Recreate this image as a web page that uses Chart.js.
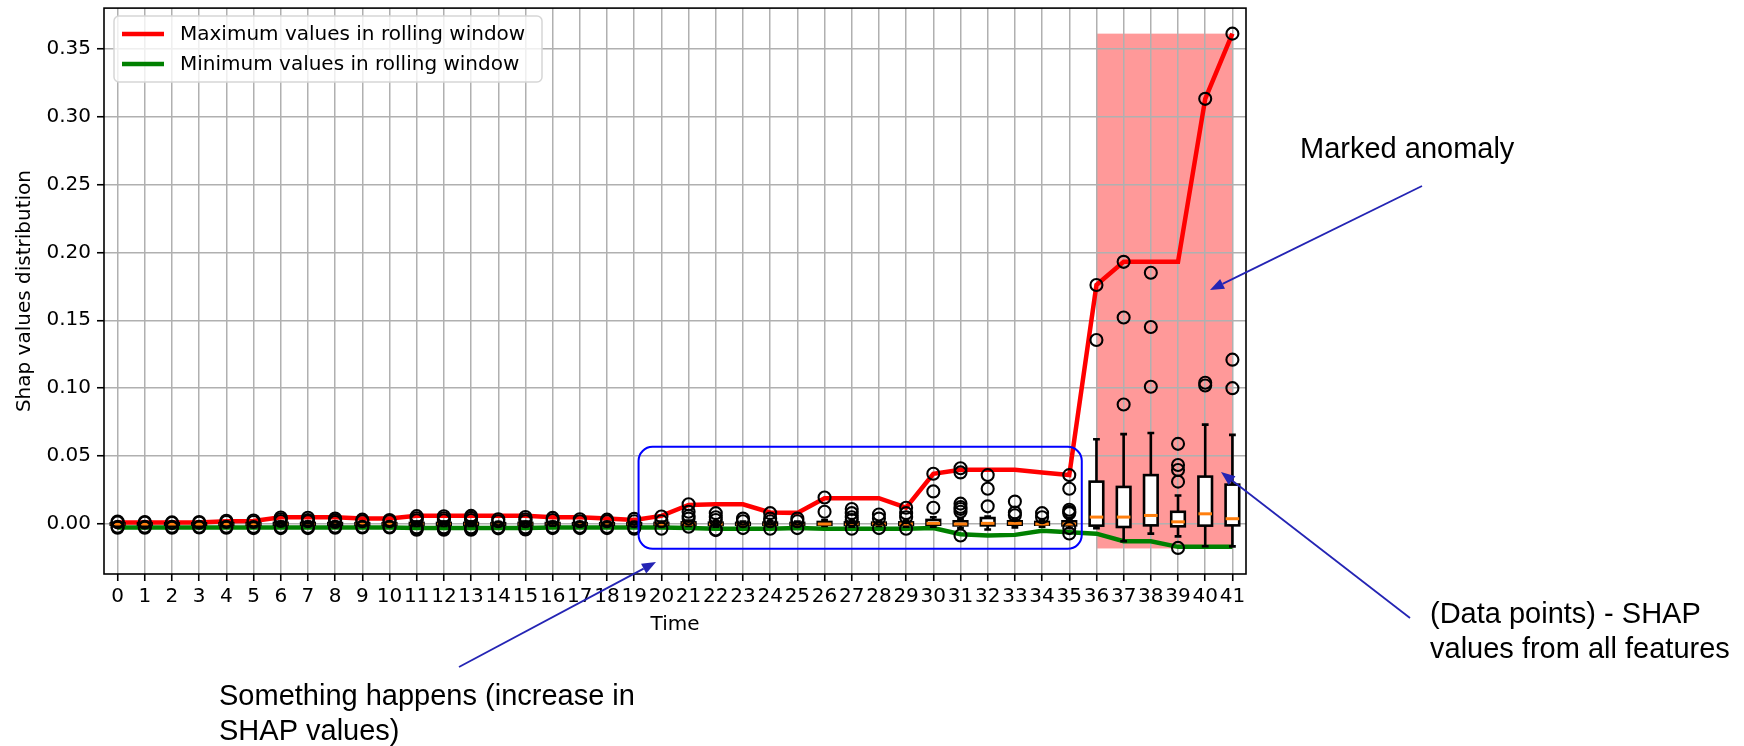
<!DOCTYPE html>
<html>
<head>
<meta charset="utf-8">
<script src="https://cdn.jsdelivr.net/npm/chart.js@4/dist/chart.umd.min.js"></script>
<style>
  html, body { margin: 0; padding: 0; background: #ffffff; }
  canvas { display: block; }
</style>
</head>
<body>
<canvas id="shapChart" width="1744" height="746"></canvas>
<script>
// Time steps shown on the x axis
const timeLabels = ['0','1','2','3','4','5','6','7','8','9','10','11','12','13','14','15','16','17','18','19','20',
  '21','22','23','24','25','26','27','28','29','30','31','32','33','34','35','36','37','38','39','40','41'];

// Rolling-window extremes of the SHAP values
const rollingMax = [0.0012, 0.0012, 0.0012, 0.0012, 0.002, 0.0022, 0.005, 0.005, 0.005, 0.004, 0.004,
  0.006, 0.006, 0.006, 0.006, 0.006, 0.005, 0.005, 0.004, 0.003, 0.006,
  0.014, 0.0145, 0.0145, 0.0085, 0.0082, 0.019, 0.019, 0.019, 0.012, 0.037,
  0.040, 0.040, 0.040, 0.0380, 0.036, 0.176, 0.193, 0.193, 0.193, 0.313, 0.361];
const rollingMin = [-0.0025, -0.0025, -0.0025, -0.0025, -0.0025, -0.0025, -0.0025, -0.0025, -0.0025, -0.0025, -0.0025,
  -0.003, -0.003, -0.003, -0.003, -0.003, -0.0025, -0.0025, -0.0025, -0.0025, -0.0025,
  -0.003, -0.0035, -0.0035, -0.0035, -0.003, -0.0035, -0.0035, -0.0035, -0.0035, -0.003,
  -0.0075, -0.0085, -0.008, -0.005, -0.006, -0.0071, -0.0127, -0.0127, -0.0168, -0.0168, -0.0168];

// Box-plot statistics of the SHAP values at each time step
const whiskerLow = [-0.0012, -0.0012, -0.0012, -0.0012, -0.0012, -0.0012, -0.0012, -0.0012, -0.0012, -0.0012, -0.0012,
  -0.0015, -0.0015, -0.0015, -0.0012, -0.0015, -0.0012, -0.0012, -0.0012, -0.0012, -0.0015,
  -0.0015, -0.002, -0.0015, -0.0015, -0.0015, -0.0015, -0.002, -0.0015, -0.002, -0.002,
  -0.003, -0.004, -0.0025, -0.002, -0.003, -0.003, -0.0127, -0.0071, -0.0091, -0.0164, -0.0165];
const quartile1 = [-0.0005, -0.0005, -0.0005, -0.0005, -0.0005, -0.0005, -0.0005, -0.0005, -0.0005, -0.0005, -0.0005,
  -0.0006, -0.0006, -0.0006, -0.0005, -0.0006, -0.0005, -0.0005, -0.0005, -0.0005, -0.0005,
  -0.0005, -0.0007, -0.0005, -0.0005, -0.0005, -0.0005, -0.0007, -0.0005, -0.0007, -0.0005,
  -0.001, -0.001, -0.0005, -0.0005, -0.001, -0.0012, -0.0022, -0.001, -0.0017, -0.0012, -0.001];
const medians = [0, 0, 0, 0, 0, 0, 0, 0, 0, 0, 0,
  0, 0, 0, 0, 0, 0, 0, 0, 0, 0,
  0, 0, 0, 0, 0, 0, 0, 0, 0, 0.0005,
  0, 0.0005, 0.0005, 0, 0, 0.0051, 0.0051, 0.0063, 0.0016, 0.0075, 0.0039];
const quartile3 = [0.0005, 0.0005, 0.0005, 0.0005, 0.0006, 0.0006, 0.0008, 0.0008, 0.0007, 0.0006, 0.0006,
  0.0008, 0.0008, 0.0008, 0.0006, 0.0008, 0.0007, 0.0006, 0.0006, 0.0006, 0.0008,
  0.0012, 0.001, 0.0008, 0.001, 0.0008, 0.0015, 0.0012, 0.001, 0.0012, 0.003,
  0.002, 0.0044, 0.002, 0.0015, 0.002, 0.0312, 0.0273, 0.036, 0.009, 0.0349, 0.029];
const whiskerHigh = [0.0012, 0.0012, 0.0012, 0.0012, 0.0013, 0.0013, 0.0018, 0.0018, 0.0016, 0.0014, 0.0014,
  0.0018, 0.0018, 0.0018, 0.0014, 0.0018, 0.0016, 0.0014, 0.0014, 0.0014, 0.0018,
  0.0025, 0.002, 0.0018, 0.002, 0.0018, 0.003, 0.0025, 0.002, 0.0025, 0.005,
  0.004, 0.0055, 0.004, 0.003, 0.004, 0.0624, 0.0662, 0.067, 0.021, 0.0732, 0.0656];

// Outlying SHAP values (individual features) at each time step
const fliers = [
  [0.0018, 0.0012, -0.002, -0.0027], [0.0015, 0.001, -0.002, -0.0028], [0.0012, 0.0008, -0.002, -0.0028],
  [0.0014, 0.0009, -0.002, -0.0026], [0.0024, 0.0015, -0.002, -0.0028], [0.0026, 0.0015, -0.0022, -0.003],
  [0.0048, 0.0035, 0.0022, -0.0022, -0.003], [0.0046, 0.003, 0.002, -0.0022, -0.003],
  [0.004, 0.0028, 0.0015, -0.002, -0.0028], [0.0032, 0.002, -0.002, -0.0026], [0.003, 0.002, -0.002, -0.0026],
  [0.0058, 0.0042, 0.0028, -0.0025, -0.0035, -0.0042], [0.0057, 0.0042, 0.0028, -0.0025, -0.0035, -0.0042],
  [0.006, 0.0045, 0.003, -0.0025, -0.0035, -0.0042], [0.0035, 0.002, -0.0025, -0.0032],
  [0.0052, 0.0035, 0.002, -0.0025, -0.0035, -0.004], [0.0045, 0.003, -0.0022, -0.003],
  [0.0035, 0.002, -0.0022, -0.003], [0.0032, 0.002, -0.0022, -0.003], [0.0038, 0.002, -0.0025, -0.0035],
  [0.0055, 0.002, -0.0035],
  [0.0145, 0.009, 0.006, 0.004, -0.002], [0.008, 0.005, 0.003, -0.004, -0.0045], [0.004, 0.002, -0.003],
  [0.008, 0.004, 0.002, -0.0035], [0.004, 0.002, -0.003], [0.0195, 0.009],
  [0.011, 0.008, 0.005, 0.003, -0.0035], [0.007, 0.004, -0.003], [0.012, 0.008, 0.005, -0.0035],
  [0.037, 0.024, 0.012], [0.041, 0.038, 0.015, 0.0125, 0.011, 0.009, -0.0085], [0.036, 0.026, 0.013],
  [0.0165, 0.0085, 0.0065], [0.008, 0.005], [0.036, 0.026, 0.0105, 0.009, 0.008, -0.003, -0.007],
  [0.176, 0.1355], [0.193, 0.152, 0.088], [0.185, 0.145, 0.101],
  [0.059, 0.0434, 0.0398, 0.0312, -0.0176], [0.313, 0.104, 0.102], [0.361, 0.121, 0.100]
];

const yTickValues = [0, 0.05, 0.10, 0.15, 0.20, 0.25, 0.30, 0.35];

// Highlighted anomaly span and the "something happens" window, in data units
const anomalySpan = { x0: 36, x1: 41, y0: -0.018, y1: 0.361 };
const changeWindow = { x0: 19.16, x1: 35.46, y0: -0.0183, y1: 0.0568 };

const axisFont = { family: 'DejaVu Sans', size: 20 };
const noteFont = '29px "Liberation Sans", Arial, sans-serif';
const arrowColor = '#2424b4';

const flierPoints = [];
fliers.forEach((vals, i) => vals.forEach(v => flierPoints.push({ x: i, y: v })));

// Shaded anomaly span, beneath the grid
const anomalyShade = {
  id: 'anomalyShade',
  beforeDraw(chart) {
    const { ctx, scales: { x, y } } = chart;
    const l = x.getPixelForValue(anomalySpan.x0), r = x.getPixelForValue(anomalySpan.x1);
    const t = y.getPixelForValue(anomalySpan.y1), b = y.getPixelForValue(anomalySpan.y0);
    ctx.save();
    ctx.fillStyle = 'rgba(255,0,0,0.4)';
    ctx.fillRect(l, t, r - l, b - t);
    ctx.restore();
  }
};

// Box plots (whiskers, caps, boxes, medians), drawn just before the outlier markers
const boxPlots = {
  id: 'boxPlots',
  beforeDatasetDraw(chart, args) {
    if (args.index !== 2) return;
    const { ctx, scales: { x, y } } = chart;
    const boxHalf = x.getPixelForValue(0.25) - x.getPixelForValue(0);
    const capHalf = boxHalf / 2;
    ctx.save();
    ctx.lineCap = 'butt';
    timeLabels.forEach((_, i) => {
      const cx = x.getPixelForValue(i);
      const yLo = y.getPixelForValue(whiskerLow[i]);
      const yQ1 = y.getPixelForValue(quartile1[i]);
      const yMed = y.getPixelForValue(medians[i]);
      const yQ3 = y.getPixelForValue(quartile3[i]);
      const yHi = y.getPixelForValue(whiskerHigh[i]);
      ctx.strokeStyle = '#000';
      ctx.lineWidth = 2.6;
      ctx.beginPath();
      ctx.moveTo(cx, yQ3); ctx.lineTo(cx, yHi);
      ctx.moveTo(cx, yQ1); ctx.lineTo(cx, yLo);
      ctx.moveTo(cx - capHalf, yHi); ctx.lineTo(cx + capHalf, yHi);
      ctx.moveTo(cx - capHalf, yLo); ctx.lineTo(cx + capHalf, yLo);
      ctx.stroke();
      ctx.fillStyle = '#ffffff';
      ctx.fillRect(cx - boxHalf, yQ3, boxHalf * 2, yQ1 - yQ3);
      ctx.strokeRect(cx - boxHalf, yQ3, boxHalf * 2, yQ1 - yQ3);
      ctx.strokeStyle = '#ff7f0e';
      ctx.lineWidth = 3;
      ctx.beginPath();
      ctx.moveTo(cx - boxHalf, yMed); ctx.lineTo(cx + boxHalf, yMed);
      ctx.stroke();
    });
    ctx.restore();
  }
};

function drawArrow(ctx, x0, y0, x1, y1) {
  const ang = Math.atan2(y1 - y0, x1 - x0);
  const len = 14, wid = 5.5;
  const bx = x1 - len * Math.cos(ang), by = y1 - len * Math.sin(ang);
  ctx.beginPath();
  ctx.moveTo(x0, y0); ctx.lineTo(bx, by);
  ctx.stroke();
  ctx.beginPath();
  ctx.moveTo(x1, y1);
  ctx.lineTo(bx + wid * Math.sin(ang), by - wid * Math.cos(ang));
  ctx.lineTo(bx - wid * Math.sin(ang), by + wid * Math.cos(ang));
  ctx.closePath();
  ctx.fill();
}

function roundRect(ctx, x, y, w, h, r) {
  ctx.beginPath();
  ctx.moveTo(x + r, y);
  ctx.lineTo(x + w - r, y); ctx.arcTo(x + w, y, x + w, y + r, r);
  ctx.lineTo(x + w, y + h - r); ctx.arcTo(x + w, y + h, x + w - r, y + h, r);
  ctx.lineTo(x + r, y + h); ctx.arcTo(x, y + h, x, y + h - r, r);
  ctx.lineTo(x, y + r); ctx.arcTo(x, y, x + r, y, r);
  ctx.closePath();
}

// Axes frame, change window, legend and the explanatory notes
const overlays = {
  id: 'overlays',
  afterDatasetsDraw(chart) {
    const { ctx, chartArea: a, scales: { x, y } } = chart;
    ctx.save();
    ctx.strokeStyle = '#000';
    ctx.lineWidth = 1.6;
    ctx.strokeRect(a.left, a.top, a.right - a.left, a.bottom - a.top);
    const l = x.getPixelForValue(changeWindow.x0), r = x.getPixelForValue(changeWindow.x1);
    const t = y.getPixelForValue(changeWindow.y1), b = y.getPixelForValue(changeWindow.y0);
    ctx.strokeStyle = '#0000ff';
    ctx.lineWidth = 2;
    roundRect(ctx, l, t, r - l, b - t, 14);
    ctx.stroke();
    ctx.restore();
  },
  afterDraw(chart) {
    const { ctx } = chart;
    ctx.save();
    // legend
    roundRect(ctx, 114, 16, 428, 66, 5);
    ctx.fillStyle = 'rgba(255,255,255,0.8)';
    ctx.fill();
    ctx.strokeStyle = '#d6d6d6';
    ctx.lineWidth = 1.5;
    ctx.stroke();
    const rows = [34, 64];
    chart.data.datasets.slice(0, 2).forEach((ds, i) => {
      ctx.strokeStyle = ds.borderColor;
      ctx.lineWidth = 4.5;
      ctx.beginPath();
      ctx.moveTo(122, rows[i]); ctx.lineTo(164, rows[i]);
      ctx.stroke();
      ctx.fillStyle = '#000';
      ctx.font = `${axisFont.size}px "${axisFont.family}"`;
      ctx.textBaseline = 'middle';
      ctx.textAlign = 'left';
      ctx.fillText(ds.label, 180, rows[i] + 1);
    });
    // notes and arrows
    ctx.fillStyle = '#000';
    ctx.textBaseline = 'middle';
    ctx.font = noteFont;
    ctx.fillText('Marked anomaly', 1300, 150);
    ctx.fillText('Something happens (increase in', 219, 697);
    ctx.fillText('SHAP values)', 219, 732);
    ctx.fillText('(Data points) - SHAP', 1430, 615);
    ctx.fillText('values from all features', 1430, 650);
    ctx.strokeStyle = arrowColor;
    ctx.fillStyle = arrowColor;
    ctx.lineWidth = 1.8;
    drawArrow(ctx, 1422, 186, 1210, 290);
    drawArrow(ctx, 1410, 618, 1221, 472);
    drawArrow(ctx, 459, 667, 656, 562);
    ctx.restore();
  }
};

new Chart(document.getElementById('shapChart'), {
  type: 'line',
  data: {
    datasets: [
      {
        label: 'Maximum values in rolling window',
        data: rollingMax.map((v, i) => ({ x: i, y: v })),
        borderColor: '#ff0000', borderWidth: 4.5, pointRadius: 0, tension: 0, order: 2
      },
      {
        label: 'Minimum values in rolling window',
        data: rollingMin.map((v, i) => ({ x: i, y: v })),
        borderColor: '#008000', borderWidth: 4.5, pointRadius: 0, tension: 0, order: 1
      },
      {
        type: 'scatter',
        label: 'SHAP values',
        data: flierPoints,
        pointStyle: 'circle', pointRadius: 6, borderWidth: 2.1,
        borderColor: '#000', backgroundColor: 'rgba(0,0,0,0)', order: 0
      }
    ]
  },
  options: {
    responsive: false,
    animation: false,
    devicePixelRatio: 1,
    layout: { padding: { top: 6, right: 498, left: 0, bottom: 0 } },
    plugins: { legend: { display: false }, tooltip: { enabled: false } },
    scales: {
      x: {
        type: 'linear', min: -0.5, max: 41.5,
        afterBuildTicks: s => { s.ticks = timeLabels.map((_, i) => ({ value: i })); },
        afterFit: s => { s.height = 172; s.paddingLeft = 0; s.paddingRight = 0; },
        ticks: {
          autoSkip: false, maxRotation: 0, color: '#000', font: axisFont, padding: 4,
          callback: (v, idx) => timeLabels[idx]
        },
        grid: { color: '#b0b0b0', lineWidth: 1.5, tickColor: '#000', tickLength: 7, tickWidth: 1.6 },
        border: { display: false },
        title: { display: true, text: 'Time', color: '#000', font: axisFont, padding: { top: 0, bottom: 109 } }
      },
      y: {
        type: 'linear', min: -0.0368, max: 0.3798,
        afterBuildTicks: s => { s.ticks = yTickValues.map(v => ({ value: v })); },
        afterFit: s => { s.width = 104; s.paddingTop = 0; s.paddingBottom = 0; },
        ticks: {
          color: '#000', font: axisFont, padding: 6,
          callback: v => v.toFixed(2)
        },
        grid: { color: '#b0b0b0', lineWidth: 1.5, tickColor: '#000', tickLength: 7, tickWidth: 1.6 },
        border: { display: false },
        title: { display: true, text: 'Shap values distribution', color: '#000', font: axisFont, padding: { top: 13, bottom: 0 } }
      }
    }
  },
  plugins: [anomalyShade, boxPlots, overlays]
});
</script>
</body>
</html>
